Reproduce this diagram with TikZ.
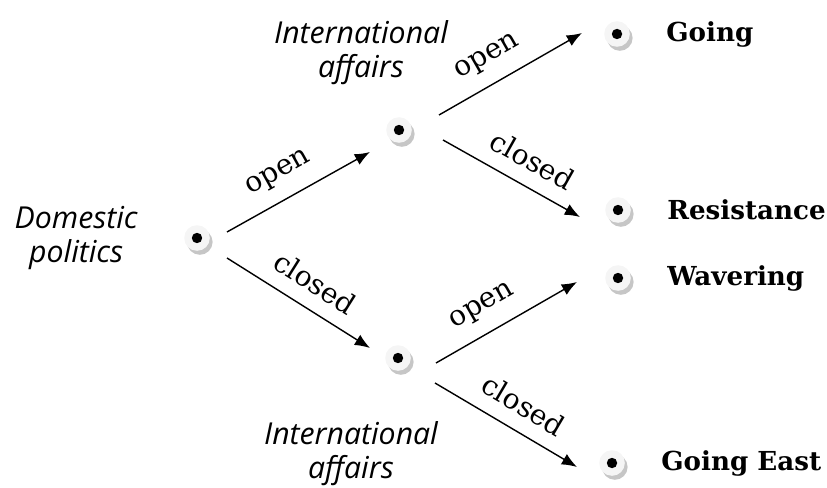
\documentclass[tikz,border=0pt]{standalone}
\usepackage{fontspec}
\setmainfont{DejaVu Serif}
\newfontfamily\actorfont{Open Sans}
\usetikzlibrary{arrows.meta,positioning,shadows}

\tikzset{
  choice/.style={circle, minimum size=0.64cm, inner sep=0pt, fill=gray!8,
    drop shadow={shadow xshift=0.07cm, shadow yshift=-0.1cm, fill=gray!45, opacity=1},
    path picture={\fill[black] (path picture bounding box.center) circle (0.13cm);}},
  outcome/.style={inner sep=0pt, font=\bfseries\fontsize{18.6}{22}\selectfont},
  actor/.style={inner sep=0pt, align=center, font=\actorfont\itshape\fontsize{21.5}{24}\selectfont},
  branch/.style={-{Latex[length=0.38cm,width=0.3cm]}, line width=1pt},
  verdict/.style={sloped, above=7pt, font=\fontsize{20}{22}\selectfont}
}

\begin{document}
\begin{tikzpicture}
    \useasboundingbox (0,0) rectangle (20.675,12.175);
    % decision points
    \node[choice] (root) at (4.925,6.225) {};
    \node[choice] (upper) at (9.975,8.925) {};
    \node[choice] (lower) at (9.95,3.225) {};
    % outcomes
    \node[choice] (going) at (15.425,11.325) {};
    \node[choice] (resist) at (15.45,6.925) {};
    \node[choice] (waver) at (15.45,5.225) {};
    \node[choice] (east) at (15.3,0.6) {};
    \node[outcome, right=0.9cm of going] (goingtxt) {Going};
    \node[outcome, right=0.9cm of resist] (resisttxt) {Resistance};
    \node[outcome, right=0.9cm of waver] (wavertxt) {Wavering};
    \node[outcome, right=0.9cm of east] (easttxt) {Going East};
    % actors
    \node[actor, left=1.15cm of root] (domestic) {Domestic\\politics};
    \node[actor, above=0.8cm of upper, xshift=-0.95cm] (intlup) {International\\affairs};
    \node[actor, below=1.25cm of lower, xshift=-1.175cm] (intldown) {International\\affairs};
    % branches
    \draw[branch] ([shift={(0.75,0.15)}]root.center) -- node[verdict, pos=0.45] {open} ([shift={(-0.725,-0.55)}]upper.center);
    \draw[branch] ([shift={(0.75,-0.5)}]root.center) -- node[verdict, pos=0.52] {closed} ([shift={(-0.7,0.25)}]lower.center);
    \draw[branch] ([shift={(1.0,0.375)}]upper.center) -- node[verdict, pos=0.43] {open} ([shift={(-0.875,0.025)}]going.center);
    \draw[branch] ([shift={(1.1,-0.25)}]upper.center) -- node[verdict, pos=0.56] {closed} ([shift={(-0.95,-0.175)}]resist.center);
    \draw[branch] ([shift={(0.95,-0.125)}]lower.center) -- node[verdict, pos=0.42] {open} ([shift={(-1.025,-0.1)}]waver.center);
    \draw[branch] ([shift={(0.925,-0.625)}]lower.center) -- node[verdict, pos=0.53] {closed} ([shift={(-0.875,-0.1)}]east.center);
\end{tikzpicture}
\end{document}
